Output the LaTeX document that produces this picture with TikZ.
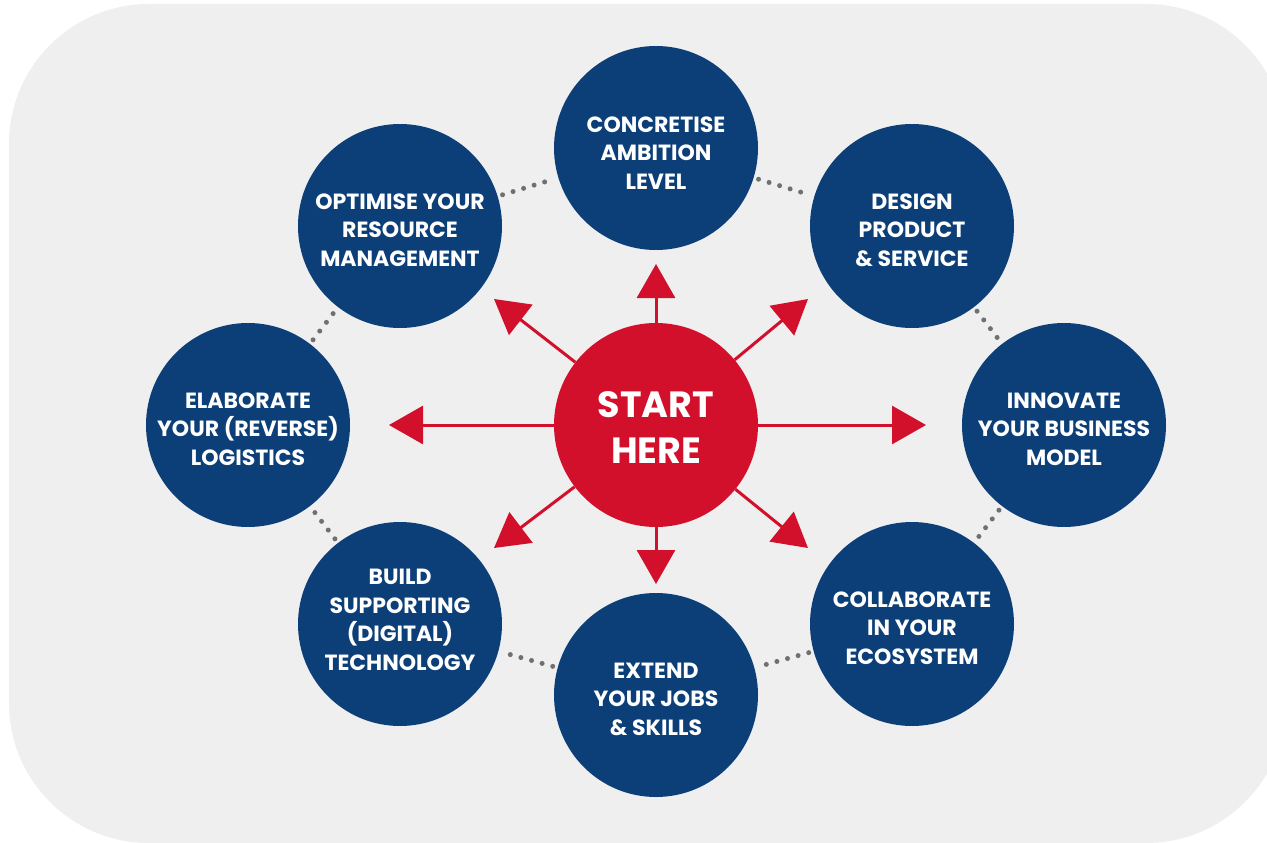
\documentclass[tikz,border=0pt]{standalone}
\usepackage{fontspec}
\setmainfont{Poppins}
\usetikzlibrary{arrows.meta}
\definecolor{navy}{HTML}{0C3F77}
\definecolor{redc}{HTML}{D2102C}
\definecolor{bggray}{HTML}{EFEFEF}
\definecolor{dotgray}{HTML}{707070}
\tikzset{
  stepcircle/.style={circle, fill=navy, minimum size=204pt, inner sep=0pt},
  steptext/.style={text=white, inner sep=0pt, align=center,
    font=\bfseries\fontsize{22}{28.5}\selectfont},
  startcircle/.style={circle, fill=redc, minimum size=204pt, inner sep=0pt},
  starttext/.style={text=white, inner sep=0pt, align=center,
    font=\bfseries\fontsize{36.5}{46}\selectfont},
  dotlink/.style={draw=dotgray, line width=5pt, line cap=round,
    dash pattern=on 0pt off 11pt, shorten >=5pt, shorten <=5pt},
  spoke/.style={draw=redc, line width=3pt, -{Triangle[length=34pt,width=38pt]}},
}
\begin{document}
\begin{tikzpicture}[x=1pt,y=-1pt]
\useasboundingbox (0,0) rectangle (1267,843);
\fill[white] (0,0) rectangle (1267,843);
\fill[bggray, rounded corners=140pt] (9,4) rectangle (1286,843);

\node[stepcircle] (c1) at (656,148) {};
\node[stepcircle] (c2) at (912,226) {};
\node[stepcircle] (c3) at (1064,425) {};
\node[stepcircle] (c4) at (912,624) {};
\node[stepcircle] (c5) at (656,695) {};
\node[stepcircle] (c6) at (400,624) {};
\node[stepcircle] (c7) at (248,425) {};
\node[stepcircle] (c8) at (400,226) {};

\node[steptext] (c1t) at (656,153) {CONCRETISE\\AMBITION\\LEVEL};
\node[steptext] (c2t) at (912,230) {DESIGN\\PRODUCT\\\& SERVICE};
\node[steptext] (c3t) at (1064,429) {INNOVATE\\YOUR BUSINESS\\MODEL};
\node[steptext] (c4t) at (912,628) {COLLABORATE\\IN YOUR\\ECOSYSTEM};
\node[steptext] (c5t) at (656,699) {EXTEND\\YOUR JOBS\\\& SKILLS};
\node[steptext] (c6t) at (400,620) {BUILD\\SUPPORTING\\(DIGITAL)\\TECHNOLOGY};
\node[steptext] (c7t) at (248,429) {ELABORATE\\YOUR (REVERSE)\\LOGISTICS};
\node[steptext] (c8t) at (400,230) {OPTIMISE YOUR\\RESOURCE\\MANAGEMENT};

\draw[dotlink] (c1) -- (c2);
\draw[dotlink] (c2) -- (c3);
\draw[dotlink] (c3) -- (c4);
\draw[dotlink] (c4) -- (c5);
\draw[dotlink] (c5) -- (c6);
\draw[dotlink] (c6) -- (c7);
\draw[dotlink] (c7) -- (c8);
\draw[dotlink] (c8) -- (c1);

\node[startcircle] (start) at (656,425) {};
\node[starttext] (startt) at (656,428) {START\\HERE};

\coordinate (tN) at (656,264);
\coordinate (tS) at (656,584);
\coordinate (tE) at (926,425);
\coordinate (tW) at (389,425);
\coordinate (tNE) at (808,299);
\coordinate (tNW) at (494,299);
\coordinate (tSE) at (808,548);
\coordinate (tSW) at (494,548);

\foreach \t in {tN,tS,tE,tW,tNE,tNW,tSE,tSW}
  \draw[spoke] (start) -- (\t);
\end{tikzpicture}
\end{document}
